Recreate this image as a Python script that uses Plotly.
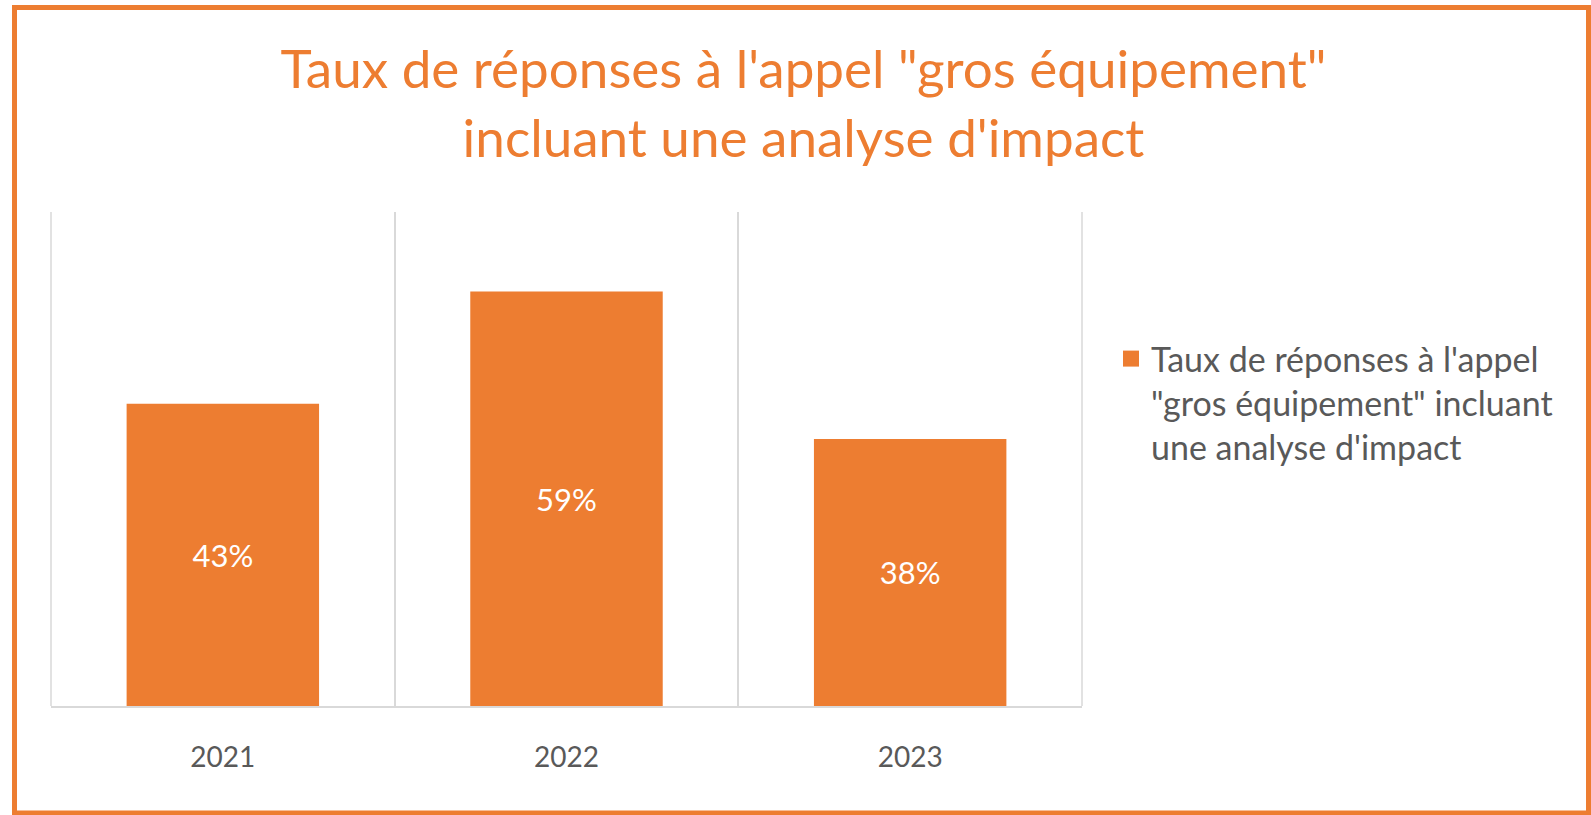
import plotly.graph_objects as go

years = ["2021", "2022", "2023"]
rates = [0.43, 0.59, 0.38]
labels = ["43%", "59%", "38%"]
series_name = "Taux de réponses à l'appel<br>\"gros équipement\" incluant<br>une analyse d'impact"
title_text = "Taux de réponses à l'appel \"gros équipement\"<br>incluant une analyse d'impact"

ORANGE = "#ED7D31"
GRAY = "#595959"
GRID = "#D9D9D9"

W, H = 1591, 815
ml, mr, mt, mb = 51, 509, 212, 109
pw = W - ml - mr
ph = H - mt - mb

def px_x(p):
    return (p - ml) / pw

def px_y(p):
    return (H - mb - p) / ph

fig = go.Figure()
fig.add_trace(go.Bar(
    x=years, y=rates, name=series_name,
    marker=dict(color=ORANGE, line=dict(width=0)),
    text=labels, textposition="inside", insidetextanchor="middle",
    textfont=dict(color="white", size=31, family="Lato"),
    showlegend=False,
))
# legend entry for the series (square swatch)
fig.add_trace(go.Scatter(
    x=[None], y=[None], name=series_name, mode="markers",
    marker=dict(color=ORANGE, symbol="square", size=20, line=dict(width=0)),
    showlegend=True, hoverinfo="skip",
))

fig.update_layout(
    width=W, height=H,
    margin=dict(l=ml, r=mr, t=mt, b=mb, autoexpand=False),
    paper_bgcolor="white", plot_bgcolor="white",
    font=dict(family="Lato", color=GRAY),
    bargap=0.44,
    title=dict(text=title_text, x=0.505, xanchor="center", xref="container",
               y=1 - 88 / H, yanchor="top", yref="container",
               font=dict(family="Lato", size=53, color=ORANGE)),
    xaxis=dict(type="category", range=[-0.5, 2.5], tickson="boundaries",
               showgrid=True, gridcolor=GRID, gridwidth=1.5,
               showline=True, linecolor=GRID, linewidth=1.5,
               ticks="", tickfont=dict(size=28, color=GRAY, family="Lato"),
               ticklabelstandoff=26, fixedrange=True),
    yaxis=dict(range=[0, 0.703], showgrid=False, showticklabels=False,
               zeroline=False, showline=False, fixedrange=True),
    legend=dict(x=px_x(1111), xanchor="left", y=px_y(330), yanchor="top",
                font=dict(family="Lato", size=34, color=GRAY),
                bgcolor="rgba(0,0,0,0)", itemsizing="trace", valign="top"),
    showlegend=True,
)

fig.add_shape(type="line", xref="paper", yref="paper", x0=1, x1=1, y0=0, y1=1,
              line=dict(color=GRID, width=1.5), layer="below")
fig.add_shape(type="line", xref="paper", yref="paper", x0=0, x1=0, y0=0, y1=1,
              line=dict(color=GRID, width=1.5), layer="below")

# chart border
fig.add_shape(type="rect", xref="paper", yref="paper",
              x0=px_x(14.5), x1=px_x(1588.5), y0=px_y(7.5), y1=px_y(813),
              line=dict(color=ORANGE, width=5), fillcolor="rgba(0,0,0,0)")

fig.write_html("out.html", config={"displayModeBar": False},
               post_script="document.body.style.margin='0';")
